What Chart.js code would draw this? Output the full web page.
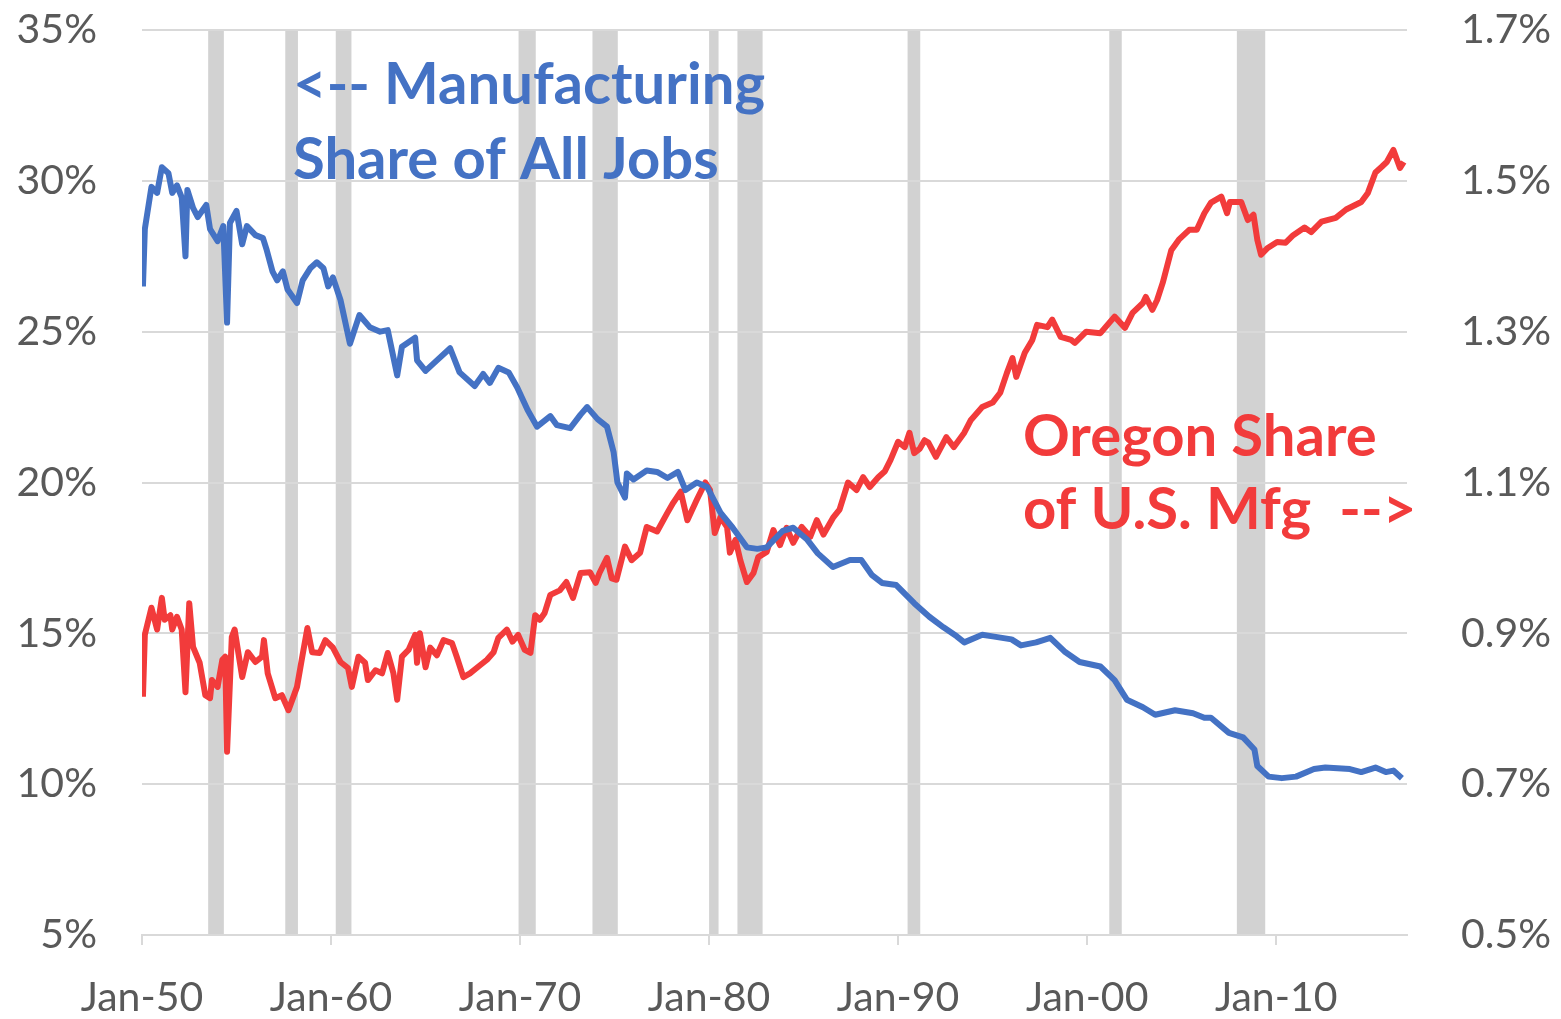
<!DOCTYPE html>
<html>
<head>
<meta charset="utf-8">
<title>Manufacturing share</title>
<script src="https://cdn.jsdelivr.net/npm/chart.js"></script>
<style>
  html, body { margin: 0; padding: 0; background: #fff; }
  #wrap { width: 1561px; height: 1019px; }
</style>
</head>
<body>
<div id="wrap"><canvas id="chart" width="1561" height="1019"></canvas></div>
<script>
// ====== DATA ======
// manufacturing share of all jobs, % (left axis)
const mfgYears = [
  1950.05, 1950.15, 1950.5, 1950.8, 1951.05, 1951.4, 1951.6, 1951.85, 1952.1, 1952.3,
  1952.4, 1952.7, 1952.95, 1953.4, 1953.6, 1954.0, 1954.3, 1954.5, 1954.65, 1955.0,
  1955.3, 1955.55, 1956.0, 1956.4, 1956.6, 1956.9, 1957.15, 1957.45, 1957.7, 1958.2,
  1958.5, 1958.9, 1959.25, 1959.6, 1959.85, 1960.1, 1960.5, 1961.0, 1961.5, 1962.05,
  1962.6, 1963.0, 1963.5, 1963.75, 1964.45, 1964.55, 1965.0, 1965.6, 1966.3, 1966.8,
  1967.6, 1968.05, 1968.4, 1968.85, 1969.4, 1969.85, 1970.4, 1970.9, 1971.6, 1971.95,
  1972.65, 1973.2, 1973.55, 1974.1, 1974.6, 1974.95, 1975.15, 1975.55, 1975.65, 1976.0,
  1976.7, 1977.25, 1977.8, 1978.35, 1978.75, 1979.35, 1979.9, 1980.6, 1981.25, 1982.0,
  1982.55, 1983.05, 1983.9, 1984.45, 1985.2, 1985.75, 1986.55, 1987.45, 1988.05, 1988.6,
  1989.15, 1989.9, 1990.85, 1991.65, 1992.4, 1993.1, 1993.5, 1994.45, 1995.0, 1996.0,
  1996.5, 1997.3, 1998.05, 1998.8, 1999.6, 2000.7, 2001.45, 2002.1, 2002.95, 2003.6,
  2004.65, 2005.6, 2006.2, 2006.55, 2007.5, 2008.25, 2008.85, 2009.0, 2009.6, 2010.3,
  2011.05, 2012.0, 2012.6, 2013.9, 2014.5, 2015.25, 2015.8, 2016.2, 2016.65
];
const mfgShare = [
  26.5, 28.4, 29.8, 29.6, 30.45, 30.25, 29.6, 29.85, 29.45, 27.5,
  29.7, 29.1, 28.8, 29.2, 28.4, 28.0, 28.5, 25.3, 28.6, 29.0,
  27.9, 28.5, 28.2, 28.1, 27.7, 27.0, 26.7, 27.0, 26.4, 25.95,
  26.7, 27.1, 27.3, 27.1, 26.5, 26.8, 26.05, 24.6, 25.55, 25.15,
  25.0, 25.05, 23.55, 24.5, 24.8, 24.05, 23.7, 24.05, 24.45, 23.65,
  23.2, 23.6, 23.3, 23.8, 23.65, 23.15, 22.4, 21.85, 22.2, 21.9,
  21.8, 22.25, 22.5, 22.1, 21.85, 21.0, 20.0, 19.5, 20.3, 20.1,
  20.4, 20.35, 20.15, 20.35, 19.75, 20.0, 19.85, 19.0, 18.5, 17.85,
  17.8, 17.85, 18.4, 18.5, 18.1, 17.65, 17.2, 17.43, 17.43, 16.94,
  16.67, 16.6, 16.0, 15.55, 15.2, 14.9, 14.7, 14.95, 14.9, 14.8,
  14.6, 14.7, 14.85, 14.4, 14.05, 13.9, 13.45, 12.8, 12.55, 12.3,
  12.45, 12.35, 12.2, 12.2, 11.7, 11.55, 11.15, 10.6, 10.25, 10.2,
  10.25, 10.5, 10.55, 10.5, 10.4, 10.55, 10.4, 10.45, 10.2
];

// Oregon share of U.S. manufacturing jobs, % (right axis)
const orYears = [
  1950.05, 1950.15, 1950.5, 1950.8, 1951.05, 1951.2, 1951.5, 1951.6, 1951.85, 1952.1,
  1952.3, 1952.5, 1952.7, 1953.05, 1953.35, 1953.6, 1953.7, 1954.0, 1954.25, 1954.4,
  1954.5, 1954.75, 1954.9, 1955.3, 1955.6, 1956.0, 1956.35, 1956.45, 1956.65, 1957.05,
  1957.4, 1957.75, 1958.2, 1958.45, 1958.75, 1959.0, 1959.4, 1959.7, 1960.1, 1960.5,
  1960.9, 1961.1, 1961.45, 1961.8, 1961.95, 1962.35, 1962.7, 1963.0, 1963.3, 1963.5,
  1963.75, 1964.1, 1964.45, 1964.55, 1964.7, 1965.0, 1965.25, 1965.6, 1965.95, 1966.4,
  1966.65, 1967.0, 1967.35, 1967.9, 1968.25, 1968.6, 1968.85, 1969.3, 1969.6, 1969.9,
  1970.25, 1970.55, 1970.8, 1971.05, 1971.3, 1971.6, 1972.1, 1972.45, 1972.8, 1973.2,
  1973.7, 1974.0, 1974.2, 1974.6, 1974.85, 1975.1, 1975.55, 1975.9, 1976.35, 1976.7,
  1977.25, 1977.8, 1978.1, 1978.5, 1978.85, 1979.35, 1979.8, 1980.05, 1980.3, 1980.6,
  1980.95, 1981.1, 1981.4, 1981.65, 1982.0, 1982.35, 1982.6, 1983.05, 1983.4, 1983.75,
  1984.1, 1984.45, 1984.9, 1985.35, 1985.7, 1986.05, 1986.55, 1986.9, 1987.35, 1987.8,
  1988.15, 1988.5, 1988.95, 1989.3, 1989.6, 1990.0, 1990.35, 1990.6, 1990.85, 1991.15,
  1991.4, 1991.6, 1992.0, 1992.55, 1992.95, 1993.5, 1993.85, 1994.45, 1995.0, 1995.4,
  1995.75, 1996.05, 1996.25, 1996.7, 1997.1, 1997.35, 1997.9, 1998.15, 1998.6, 1999.15,
  1999.35, 1999.95, 2000.7, 2001.45, 2002.0, 2002.4, 2002.95, 2003.1, 2003.45, 2003.7,
  2004.0, 2004.45, 2004.85, 2005.4, 2005.8, 2006.2, 2006.55, 2007.1, 2007.4, 2007.55,
  2008.15, 2008.5, 2008.8, 2009.0, 2009.2, 2009.55, 2010.05, 2010.5, 2010.9, 2011.5,
  2011.85, 2012.4, 2013.15, 2013.7, 2014.5, 2014.85, 2015.25, 2015.6, 2015.85, 2016.2,
  2016.55, 2016.75
];
const orShare = [
  0.816, 0.898, 0.934, 0.905, 0.947, 0.918, 0.924, 0.905, 0.922, 0.905,
  0.822, 0.940, 0.882, 0.861, 0.818, 0.814, 0.838, 0.829, 0.865, 0.869,
  0.743, 0.895, 0.905, 0.842, 0.875, 0.862, 0.869, 0.891, 0.847, 0.814,
  0.818, 0.798, 0.829, 0.865, 0.907, 0.875, 0.874, 0.891, 0.881, 0.862,
  0.854, 0.829, 0.869, 0.861, 0.838, 0.851, 0.847, 0.874, 0.847, 0.812,
  0.869, 0.878, 0.898, 0.861, 0.900, 0.855, 0.881, 0.871, 0.891, 0.887,
  0.869, 0.842, 0.847, 0.858, 0.865, 0.875, 0.894, 0.905, 0.889, 0.898,
  0.878, 0.874, 0.924, 0.918, 0.927, 0.951, 0.957, 0.968, 0.947, 0.980,
  0.981, 0.967, 0.980, 1.000, 0.973, 0.971, 1.015, 0.997, 1.007, 1.041,
  1.035, 1.060, 1.073, 1.088, 1.050, 1.077, 1.100, 1.090, 1.033, 1.054,
  1.041, 1.007, 1.024, 0.997, 0.968, 0.980, 1.001, 1.008, 1.037, 1.017,
  1.040, 1.020, 1.041, 1.028, 1.050, 1.031, 1.053, 1.064, 1.100, 1.090,
  1.107, 1.094, 1.107, 1.115, 1.130, 1.154, 1.147, 1.166, 1.139, 1.145,
  1.156, 1.153, 1.134, 1.160, 1.147, 1.166, 1.183, 1.200, 1.206, 1.219,
  1.245, 1.265, 1.240, 1.272, 1.289, 1.309, 1.306, 1.316, 1.293, 1.289,
  1.285, 1.300, 1.298, 1.320, 1.305, 1.325, 1.338, 1.346, 1.329, 1.342,
  1.365, 1.408, 1.422, 1.435, 1.435, 1.457, 1.471, 1.479, 1.457, 1.472,
  1.472, 1.448, 1.455, 1.422, 1.402, 1.411, 1.419, 1.418, 1.428, 1.438,
  1.432, 1.446, 1.451, 1.462, 1.472, 1.484, 1.511, 1.519, 1.525, 1.541,
  1.517, 1.525
];

// recessions (shaded bands), start / end as decimal years
const recessionStart = [1953.5, 1957.58, 1960.25, 1969.92, 1973.83, 1980.0, 1981.5, 1990.5, 2001.17, 2007.92];
const recessionEnd   = [1954.33, 1958.25, 1961.08, 1970.83, 1975.17, 1980.5, 1982.83, 1991.17, 2001.83, 2009.42];

// axis ticks
const xTickYears = [1950, 1960, 1970, 1980, 1990, 2000, 2010];
const leftTicks = [5, 10, 15, 20, 25, 30, 35];
const rightTicks = [0.5, 0.7, 0.9, 1.1, 1.3, 1.5, 1.7];

// ====== STYLE ======
const BLUE = "#4472C4";
const RED = "#F23B3B";
const GRID = "#d9d9d9";
const BAND = "#d2d2d2";
const LABEL = "#595959";
const FONT = "Lato, 'Open Sans', sans-serif";

// ====== PLUGINS ======
const recessionBands = {
  id: "recessionBands",
  beforeDraw(chart) {
    const { ctx, chartArea, scales } = chart;
    ctx.save();
    ctx.fillStyle = "#fff";
    ctx.fillRect(0, 0, chart.width, chart.height);
    ctx.fillStyle = BAND;
    recessionStart.forEach((s, i) => {
      const x0 = scales.x.getPixelForValue(s);
      const x1 = scales.x.getPixelForValue(recessionEnd[i]);
      ctx.fillRect(x0, chartArea.top, x1 - x0, chartArea.bottom - chartArea.top);
    });
    ctx.restore();
  }
};

// series captions drawn straight on the chart
const seriesNotes = {
  id: "seriesNotes",
  afterDraw(chart) {
    const ctx = chart.ctx;
    ctx.save();
    ctx.font = "bold 58px " + FONT;
    ctx.textBaseline = "alphabetic";
    ctx.textAlign = "left";
    ctx.fillStyle = BLUE;
    ctx.fillText("<-- Manufacturing", 293, 104);
    ctx.fillText("Share of All Jobs", 293, 179);
    ctx.fillStyle = RED;
    ctx.fillText("Oregon Share", 1023, 456);
    ctx.fillText("of U.S. Mfg  -->", 1023, 529);
    ctx.restore();
  }
};

// keep the tick padding of vertical axes from pushing the plot area down
function fixVertical(width) {
  return (s) => {
    s.width = width;
    s.paddingTop = 0;
    s.paddingBottom = 0;
  };
}

// ====== CHART ======
const ctx = document.getElementById("chart").getContext("2d");

new Chart(ctx, {
  type: "line",
  data: {
    datasets: [
      {
        label: "Manufacturing Share of All Jobs",
        data: mfgYears.map((y, i) => ({ x: y, y: mfgShare[i] })),
        borderColor: BLUE,
        borderWidth: 6,
        pointRadius: 0,
        borderJoinStyle: "round",
        yAxisID: "y",
      },
      {
        label: "Oregon Share of U.S. Mfg",
        data: orYears.map((y, i) => ({ x: y, y: orShare[i] })),
        borderColor: RED,
        borderWidth: 6,
        pointRadius: 0,
        borderJoinStyle: "round",
        yAxisID: "y2",
      },
    ],
  },
  options: {
    responsive: false,
    animation: false,
    layout: { padding: { top: 30, left: 0, right: 0, bottom: 0 } },
    plugins: {
      legend: { display: false },
      tooltip: { enabled: false },
      title: { display: false },
    },
    scales: {
      x: {
        type: "linear",
        min: 1950,
        max: 2016.92,
        grid: { drawOnChartArea: false, drawTicks: true, tickLength: 10, color: GRID, lineWidth: 2 },
        border: { display: true, color: GRID, width: 2 },
        afterBuildTicks: (s) => { s.ticks = xTickYears.map((v) => ({ value: v })); },
        afterFit: (s) => { s.height = 84; },
        ticks: {
          color: LABEL,
          font: { family: FONT, size: 41 },
          padding: 28,
          maxRotation: 0,
          autoSkip: false,
          callback: (v) => "Jan-" + String(v).slice(2),
        },
      },
      y: {
        position: "left",
        min: 5,
        max: 35,
        grid: { color: GRID, lineWidth: 2, drawTicks: false },
        border: { display: false },
        afterBuildTicks: (s) => { s.ticks = leftTicks.map((v) => ({ value: v })); },
        afterFit: fixVertical(142),
        ticks: {
          color: LABEL,
          font: { family: FONT, size: 41 },
          padding: 45,
          callback: (v) => v + "%",
        },
      },
      y2: {
        position: "right",
        min: 0.5,
        max: 1.7,
        grid: { display: false },
        border: { display: false },
        afterBuildTicks: (s) => { s.ticks = rightTicks.map((v) => ({ value: v })); },
        afterFit: fixVertical(154),
        ticks: {
          color: LABEL,
          font: { family: FONT, size: 41 },
          padding: 46,
          callback: (v) => v.toFixed(1) + "%",
        },
      },
    },
  },
  plugins: [recessionBands, seriesNotes],
});
</script>
</body>
</html>
